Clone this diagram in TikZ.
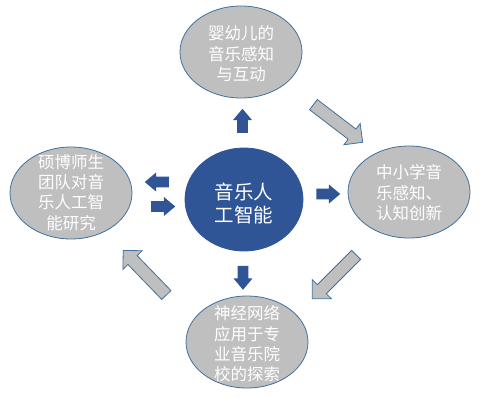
\documentclass[tikz,border=0pt]{standalone}
\usepackage{fontspec}
\newfontfamily\cjk{Noto Sans CJK SC}
\usetikzlibrary{shapes.geometric, shapes.arrows}
\definecolor{aiblue}{HTML}{2F5597}
\definecolor{edgeblue}{HTML}{41719C}
\definecolor{topicgray}{HTML}{BFBFBF}

\begin{document}
\begin{tikzpicture}[x=1pt, y=-1pt,
  topic/.style={ellipse, fill=topicgray, draw=edgeblue, line width=0.8pt,
    minimum width=122pt, minimum height=92pt, inner sep=0pt},
  core/.style={ellipse, fill=aiblue, draw=aiblue, line width=0.8pt,
    minimum width=118pt, minimum height=103pt, inner sep=0pt},
  words/.style={text=white, align=center, inner sep=0pt,
    font=\cjk\fontsize{16.5}{20.5}\selectfont},
  push/.style={single arrow, fill=aiblue, inner xsep=0pt, inner ysep=5.25pt,
    minimum height=24pt, single arrow head extend=4pt, single arrow tip angle=80},
  loopback/.style={single arrow, fill=topicgray, draw=edgeblue, line width=0.8pt,
    inner xsep=0pt, inner ysep=6pt, minimum height=62pt,
    single arrow head extend=7pt}
]
  \fill[white] (0,0) rectangle (482,400);
  \useasboundingbox (0,0) rectangle (482,400);

  \node[core] (ai) at (244,199.5) {};
  \node[words, font=\cjk\fontsize{19.5}{23}\selectfont] (aitext) at (244,204) {音乐人\\工智能};

  \node[topic] (infant) at (241,52) {};
  \node[topic] (school) at (409,192) {};
  \node[topic] (college) at (247,342) {};
  \node[topic] (team) at (71,193) {};

  \node[words] (infanttext) at (241,54) {婴幼儿的\\音乐感知\\与互动};
  \node[words] (schooltext) at (409,193) {中小学音\\乐感知、\\认知创新};
  \node[words, font=\cjk\fontsize{16.5}{20.3}\selectfont] (collegetext) at (247,344) {神经网络\\应用于专\\业音乐院\\校的探索};
  \node[words, font=\cjk\fontsize{16.5}{20.3}\selectfont] (teamtext) at (71,192.5) {硕博师生\\团队对音\\乐人工智\\能研究};

  % from the core outwards
  \node[push, rotate=90] (toinfant) at (242.5,124) {};
  \node[push, rotate=-90] (tocollege) at (243,274.5) {};
  \node[push] (toschool) at (325,194) {};
  \node[push, rotate=180] (toteam) at (160,182) {};
  \node[push] (fromteam) at (160,206.5) {};

  % round the ring
  \node[loopback, rotate=-37.4] (infantschool) at (335.5,121.5) {};
  \node[loopback, rotate=-135] (schoolcollege) at (336.5,274.5) {};
  \node[loopback, rotate=134] (collegeteam) at (147,275) {};
\end{tikzpicture}
\end{document}
